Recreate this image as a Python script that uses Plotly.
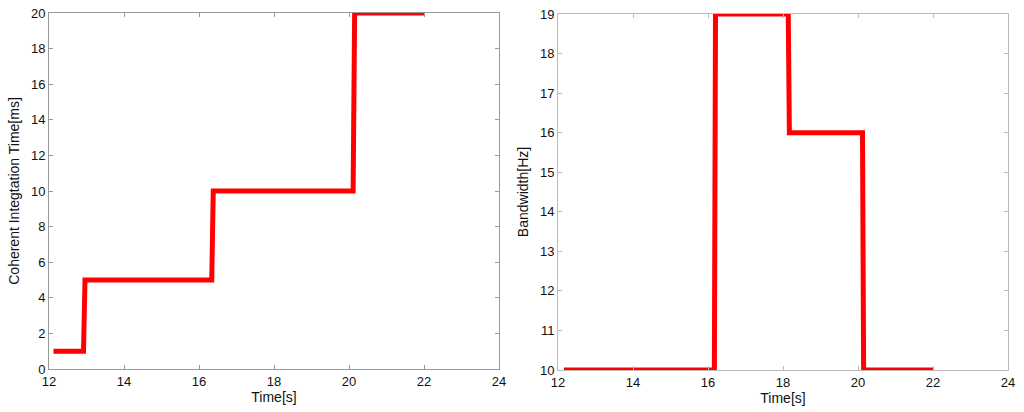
import plotly.graph_objects as go

# Left panel: coherent integration time
time_left = [12.12, 12.92, 12.96, 16.34, 16.38, 20.11, 20.15, 22.0]
cit_ms = [1, 1, 5, 5, 10, 10, 20, 20]

# Right panel: bandwidth
time_right = [12.16, 16.17, 16.2, 18.14, 18.17, 20.12, 20.15, 22.0]
bandwidth_hz = [10, 10, 19, 19, 16, 16, 10, 10]

x_ticks = [12, 14, 16, 18, 20, 22, 24]
y_ticks_left = [0, 2, 4, 6, 8, 10, 12, 14, 16, 18, 20]
y_ticks_right = [10, 11, 12, 13, 14, 15, 16, 17, 18, 19]

W, H = 1024, 412
ff = "Liberation Sans, Arial, sans-serif"
tick_font = dict(family=ff, size=13, color="#111")
title_font = dict(family=ff, size=14, color="#111")

def dx(a, b):
    return [a / W, b / W]

def dy(bottom, top):
    return [1 - bottom / H, 1 - top / H]

fig = go.Figure()
fig.add_trace(go.Scatter(x=time_left, y=cit_ms, mode="lines",
                         line=dict(color="#ff0000", width=5), xaxis="x", yaxis="y",
                         showlegend=False))
fig.add_trace(go.Scatter(x=time_right, y=bandwidth_hz, mode="lines",
                         line=dict(color="#ff0000", width=5), xaxis="x2", yaxis="y2",
                         showlegend=False))

def ax(domain, rng, ticks, color, anchor, title, standoff):
    return dict(domain=domain, range=rng, tickvals=ticks, ticks="inside", ticklen=4,
                tickcolor=color, linecolor=color, linewidth=1, mirror="ticks",
                showline=True, showgrid=False, zeroline=False, anchor=anchor,
                tickfont=tick_font, automargin=False, ticklabeloverflow="allow",
                title=dict(text=title, font=title_font, standoff=standoff))

fig.update_layout(
    width=W, height=H,
    margin=dict(l=0, r=0, t=0, b=0),
    plot_bgcolor="white", paper_bgcolor="white",
    xaxis=ax(dx(49, 499), [12, 24], x_ticks, "#999", "y", "Time[s]", 2),
    yaxis=ax(dy(369, 13), [0, 20], y_ticks_left, "#999", "x", "Coherent Integtation Time[ms]", 8),
    xaxis2=ax(dx(558, 1008), [12, 24], x_ticks, "#bbb", "y2", "Time[s]", 2),
    yaxis2=ax(dy(370, 14), [10, 19], y_ticks_right, "#bbb", "x2", "Bandwidth[Hz]", 8),
)

fig.write_html("out.html",
               config={"displayModeBar": False},
               post_script="document.body.style.margin='0';document.body.style.overflow='hidden';")
